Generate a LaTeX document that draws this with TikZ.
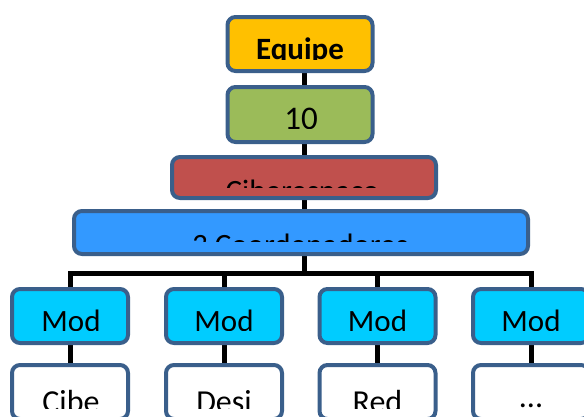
\documentclass[tikz,border=0pt]{standalone}
\usepackage{fontspec}
\setmainfont{Carlito}
\usepackage{xcolor}
\usepackage{tikz}
\usetikzlibrary{calc}
\usetikzlibrary{positioning}
\usetikzlibrary{backgrounds}
\definecolor{edgeblue}{HTML}{3A5F8B}
\definecolor{equipeyellow}{HTML}{FFC000}
\definecolor{dezgreen}{HTML}{9BBB59}
\definecolor{ciberred}{HTML}{C0504D}
\definecolor{coordblue}{HTML}{3399FF}
\definecolor{modcyan}{HTML}{00CCFF}
\tikzstyle{orgbox}=[draw=edgeblue, line width=4pt, shape=rectangle, rounded corners=8pt, inner sep=0pt]
\tikzstyle{modbox}=[orgbox, fill=modcyan, minimum width=116pt, minimum height=54pt]
\tikzstyle{subbox}=[orgbox, fill=white, minimum width=116pt, minimum height=54pt]
\tikzstyle{orgtext}=[inner sep=0pt, anchor=base, text=black, font=\fontsize{31}{31}\selectfont]
\tikzstyle{subtext}=[inner sep=0pt, anchor=base, text=black, font=\fontsize{32}{32}\selectfont]
\tikzstyle{orgline}=[line width=5pt, color=black]

\begin{document}
\begin{tikzpicture}[x=1pt, y=-1pt]
\useasboundingbox (0,0) rectangle (584,416);
\clip (0,0) rectangle (584,416);
\node [orgbox, fill=equipeyellow, minimum width=145pt, minimum height=54pt] (equipe) at (300,44) {};
\node [orgbox, fill=dezgreen, minimum width=145pt, minimum height=55pt] (dez) at (300,114.5) {};
\node [orgbox, fill=ciberred, minimum width=264pt, minimum height=41pt] (ciber) at (304,177.5) {};
\node [orgbox, fill=coordblue, minimum width=454pt, minimum height=43pt] (coord) at (301,232.5) {};
\coordinate (bar) at (304,273);
\node [modbox] (mod1) at (70,316) {};
\node [modbox] (mod2) at (224,316) {};
\node [modbox] (mod3) at (377.5,316) {};
\node [modbox] (mod4) at (531,316) {};
\node [subbox] (sub1) at (70,392) {};
\node [subbox] (sub2) at (224,392) {};
\node [subbox] (sub3) at (377.5,392) {};
\node [subbox] (sub4) at (531,392) {};

\begin{pgfonlayer}{background}
\draw[orgline] (equipe.center -| ciber.center) -- (bar);
\draw[orgline] (mod1.center) |- (bar) -| (mod4.center);
\draw[orgline] (mod2.center) -- (mod2.center |- bar);
\draw[orgline] (mod3.center) -- (mod3.center |- bar);
\draw[orgline] (mod1) -- (sub1);
\draw[orgline] (mod2) -- (sub2);
\draw[orgline] (mod3) -- (sub3);
\draw[orgline] (mod4) -- (sub4);
\end{pgfonlayer}

% texts cut off at the bottom, as in the slide
\begin{scope}
\clip (equipe.north west) rectangle (equipe.east |- 0,59.5);
\node [orgtext, font=\fontsize{31}{31}\selectfont\bfseries] (equipetxt) at (300,59.5) {Equipe};
\end{scope}
\begin{scope}
\clip (dez.north west) rectangle (dez.east |- 0,128);
\node [orgtext, font=\fontsize{33}{33}\selectfont] (deztxt) at (301,129.5) {10};
\end{scope}
\begin{scope}
\clip (ciber.north west) rectangle (ciber.east |- 0,187);
\node [orgtext] (cibertxt) at (302.5,201) {Ciberespaço};
\end{scope}
\begin{scope}
\clip (coord.north west) rectangle (coord.east |- 0,241);
\node [orgtext] (coordtxt) at (300,255) {3 Coordenadores};
\end{scope}
\begin{scope}
\clip (mod1.north west) rectangle (mod4.east |- 0,330.5);
\node [orgtext] (mod1txt) at (71,331) {Mod};
\node [orgtext] (mod2txt) at (224,331) {Mod};
\node [orgtext] (mod3txt) at (377.5,331) {Mod};
\node [orgtext] (mod4txt) at (531,331) {Mod};
\end{scope}
\begin{scope}
\clip (sub1.north west) rectangle (sub4.east |- 0,408);
\node [subtext] (sub1txt) at (71,412) {Cibe};
\node [subtext] (sub2txt) at (224,412) {Desi};
\node [subtext] (sub3txt) at (377.5,412) {Red};
\node [subtext] (sub4txt) at (531,407.5) {...};
\end{scope}
\end{tikzpicture}
\end{document}
